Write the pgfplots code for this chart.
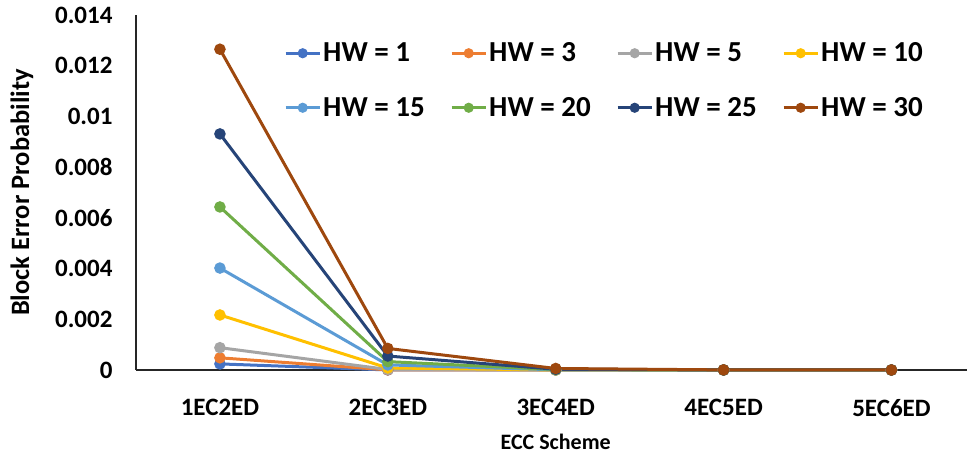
\documentclass[border=0pt]{standalone}
\usepackage{fontspec}
\setmainfont{Carlito}
\usepackage{pgfplots}
\pgfplotsset{compat=1.18}
\definecolor{c1}{HTML}{4472C4}
\definecolor{c2}{HTML}{ED7D31}
\definecolor{c3}{HTML}{A5A5A5}
\definecolor{c4}{HTML}{FFC000}
\definecolor{c5}{HTML}{5B9BD5}
\definecolor{c6}{HTML}{70AD47}
\definecolor{c7}{HTML}{264478}
\definecolor{c8}{HTML}{9E480E}
\begin{document}
\begin{tikzpicture}
\begin{axis}[
  at={(0,0)}, anchor=south west,
  scale only axis, width=831pt, height=355pt,
  xmin=-0.5, xmax=4.45, ymin=0, ymax=0.014,
  axis x line=bottom, axis y line=left,
  axis line style={-, line width=1.6pt, black!85},
  scaled y ticks=false,
  xtick={0,1,2,3,4},
  xticklabels={1EC2ED,2EC3ED,3EC4ED,4EC5ED,5EC6ED},
  ytick={0,0.002,0.004,0.006,0.008,0.01,0.012,0.014},
  yticklabels={0,0.002,0.004,0.006,0.008,0.01,0.012,0.014},
  major tick length=0pt,
  tick label style={font=\bfseries\fontsize{25}{30}\selectfont},
  xticklabel style={yshift=-26pt},
  yticklabel style={xshift=-20pt},
  xlabel={ECC Scheme},
  xlabel style={font=\bfseries\fontsize{22}{26}\selectfont, at={(axis cs:2,0)}, anchor=center, yshift=-72pt},
  ylabel={Block Error Probability},
  ylabel style={font=\bfseries\fontsize{26.5}{31}\selectfont, at={(axis description cs:-0.1372,0.5)}, anchor=center},
  clip=false,
  every axis plot/.append style={line width=3pt, mark=*, mark size=4.2pt},
  legend columns=4,
  legend style={draw=none, fill=none, at={(0.1745,0.933)}, anchor=north west,
    font=\bfseries\fontsize{29}{34}\selectfont, row sep=30pt,
    /tikz/every even column/.append style={column sep=0pt}},
  legend image code/.code={\draw[mark repeat=2,mark phase=2] plot coordinates {(0pt,0pt) (17pt,0pt) (34pt,0pt)};},
  legend image post style={line width=3pt, mark size=3.5pt},
  legend cell align=left,
]
\addplot[c1] coordinates {(0,0.00024) (1,0.000002) (2,0) (3,0) (4,0)};
\addlegendentry{\makebox[125pt][l]{HW = 1}}
\addplot[c2] coordinates {(0,0.00048) (1,0.000006) (2,0) (3,0) (4,0)};
\addlegendentry{\makebox[125pt][l]{HW = 3}}
\addplot[c3] coordinates {(0,0.00088) (1,0.00002) (2,0.0000003) (3,0) (4,0)};
\addlegendentry{\makebox[125pt][l]{HW = 5}}
\addplot[c4] coordinates {(0,0.00217) (1,0.00008) (2,0.000002) (3,0) (4,0)};
\addlegendentry{HW = 10}
\addplot[c5] coordinates {(0,0.00402) (1,0.0002) (2,0.000008) (3,0.0000003) (4,0)};
\addlegendentry{\makebox[125pt][l]{HW = 15}}
\addplot[c6] coordinates {(0,0.00643) (1,0.00033) (2,0.000017) (3,0.0000008) (4,0)};
\addlegendentry{\makebox[125pt][l]{HW = 20}}
\addplot[c7] coordinates {(0,0.00931) (1,0.00055) (2,0.00003) (3,0.000002) (4,0)};
\addlegendentry{\makebox[125pt][l]{HW = 25}}
\addplot[c8] coordinates {(0,0.01265) (1,0.00085) (2,0.00006) (3,0.000004) (4,0.0000002)};
\addlegendentry{HW = 30}
\end{axis}
\pgfresetboundingbox
\path[use as bounding box] (-136pt,-84pt) rectangle (831pt,370pt);
\end{tikzpicture}
\end{document}
